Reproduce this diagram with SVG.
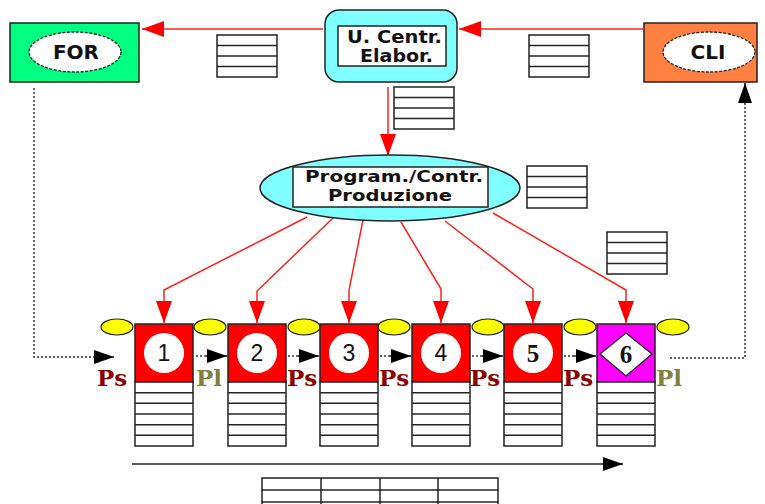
<svg xmlns="http://www.w3.org/2000/svg" xmlns:xlink="http://www.w3.org/1999/xlink" width="765" height="504" viewBox="0 0 765 504">
<style>
.tb{fill:#fff;stroke:#222;stroke-width:1.5}
.tl{stroke:#222;stroke-width:1.5}
.red{stroke:#ff2020;stroke-width:1.5;fill:none}
.dot{stroke:#333;stroke-width:1.5;fill:none;stroke-dasharray:2 2}
.blk{stroke:#222;stroke-width:1.5;fill:none}
.lbl{font-family:"DejaVu Sans",Verdana,sans-serif;font-weight:bold;fill:#111;text-anchor:middle}
.num{font-family:"Liberation Sans",Arial,sans-serif;font-size:23px;fill:#111;text-anchor:middle}
.numS{font-family:"Liberation Serif","Times New Roman",serif;font-weight:bold;font-size:25px;fill:#111;text-anchor:middle}
.ps{font-family:"DejaVu Serif","Liberation Serif",serif;font-weight:bold;font-size:23px;fill:#8b0000}
.pl{font-family:"DejaVu Serif","Liberation Serif",serif;font-weight:bold;font-size:23px;fill:#808040}
.box{stroke:#222;stroke-width:1.5}
.yel{fill:#ffff00;stroke:#222;stroke-width:1.2}
</style>
<defs>
<g id="tbl4">
<rect class="tb" x="0" y="0" width="60" height="42"/>
<line class="tl" x1="0" y1="10.5" x2="60" y2="10.5"/>
<line class="tl" x1="0" y1="21" x2="60" y2="21"/>
<line class="tl" x1="0" y1="31.5" x2="60" y2="31.5"/>
</g>
<g id="tbl6">
<rect class="tb" x="0" y="0" width="58" height="64"/>
<line class="tl" x1="0" y1="10.7" x2="58" y2="10.7"/>
<line class="tl" x1="0" y1="21.3" x2="58" y2="21.3"/>
<line class="tl" x1="0" y1="32" x2="58" y2="32"/>
<line class="tl" x1="0" y1="42.7" x2="58" y2="42.7"/>
<line class="tl" x1="0" y1="53.3" x2="58" y2="53.3"/>
</g>
<marker id="arL" viewBox="0 0 10 10" refX="10" refY="5" markerWidth="22" markerHeight="16" markerUnits="userSpaceOnUse" orient="auto" preserveAspectRatio="none">
<path d="M0,0 L10,5 L0,10 z" fill="#ff0000"/>
</marker>
<marker id="ab" viewBox="0 0 10 10" refX="10" refY="5" markerWidth="20" markerHeight="14" markerUnits="userSpaceOnUse" orient="auto" preserveAspectRatio="none">
<path d="M0,0 L10,5 L0,10 z" fill="#000"/>
</marker>
</defs>

<g id="connectors">
<line class="red" x1="323" y1="29" x2="142" y2="29" marker-end="url(#arL)"/>
<line class="red" x1="643" y1="29" x2="459" y2="29" marker-end="url(#arL)"/>
<line class="red" x1="388" y1="87" x2="388" y2="156" marker-end="url(#arL)"/>
<polyline class="red" points="307,217 164,290 164,323" marker-end="url(#arL)"/>
<polyline class="red" points="333,218 257,291 257,323" marker-end="url(#arL)"/>
<polyline class="red" points="363,220 349,290 349,323" marker-end="url(#arL)"/>
<polyline class="red" points="401,222 441,289 441,323" marker-end="url(#arL)"/>
<polyline class="red" points="445,221 533,289 533,323" marker-end="url(#arL)"/>
<polyline class="red" points="493,213 626,290 626,323" marker-end="url(#arL)"/>
<polyline class="dot" points="34,88 34,357 96,357"/>
<line class="blk" x1="96" y1="357" x2="114" y2="357" marker-end="url(#ab)"/>
<polyline class="dot" points="670,358 745,358 745,104"/>
<line class="blk" x1="745" y1="104" x2="745" y2="83" marker-end="url(#ab)"/>
<line class="dot" x1="196" y1="356" x2="206" y2="356"/>
<line class="blk" x1="206" y1="356" x2="227" y2="356" marker-end="url(#ab)"/>
<line class="dot" x1="288" y1="356" x2="298" y2="356"/>
<line class="blk" x1="298" y1="356" x2="319" y2="356" marker-end="url(#ab)"/>
<line class="dot" x1="380" y1="356" x2="390" y2="356"/>
<line class="blk" x1="390" y1="356" x2="411" y2="356" marker-end="url(#ab)"/>
<line class="dot" x1="472" y1="356" x2="482" y2="356"/>
<line class="blk" x1="482" y1="356" x2="503" y2="356" marker-end="url(#ab)"/>
<line class="dot" x1="564" y1="356" x2="574" y2="356"/>
<line class="blk" x1="574" y1="356" x2="596" y2="356" marker-end="url(#ab)"/>
<line class="blk" x1="132" y1="464" x2="623" y2="464" marker-end="url(#ab)"/>
</g>

<g id="FOR">
<rect x="10" y="23" width="129" height="59" fill="#00ff80" class="box"/>
<ellipse cx="75" cy="52" rx="46" ry="20" fill="#fff" stroke="#222" stroke-width="1.3" stroke-dasharray="3 1.5"/>
<text class="lbl" x="76" y="59" font-size="20">FOR</text>
</g>

<g id="CLI">
<rect x="644" y="23" width="113" height="59" fill="#ff8040" class="box"/>
<ellipse cx="709" cy="52" rx="46" ry="20" fill="#fff" stroke="#222" stroke-width="1.3" stroke-dasharray="3 1.5"/>
<text class="lbl" x="708" y="59" font-size="20">CLI</text>
</g>

<g id="UCentr">
<rect x="325" y="10" width="132" height="72" rx="14" fill="#80ffff" class="box"/>
<rect x="338" y="26" width="108" height="40" fill="#fff" class="box"/>
<text class="lbl" x="394.5" y="43" font-size="17" textLength="95" lengthAdjust="spacingAndGlyphs">U. Centr.</text>
<text class="lbl" x="396.5" y="62" font-size="17" textLength="73" lengthAdjust="spacingAndGlyphs">Elabor.</text>
</g>

<g id="Program">
<ellipse cx="390" cy="188" rx="130" ry="33" fill="#80ffff" class="box"/>
<rect x="293" y="167" width="195" height="40" fill="#fff" class="box"/>
<text class="lbl" x="394" y="182" font-size="15.5" textLength="178" lengthAdjust="spacingAndGlyphs">Program./Contr.</text>
<text class="lbl" x="390" y="201" font-size="15.5" textLength="124" lengthAdjust="spacingAndGlyphs">Produzione</text>
</g>

<g id="tables">
<use xlink:href="#tbl4" x="217" y="35"/>
<use xlink:href="#tbl4" x="529" y="35"/>
<use xlink:href="#tbl4" x="394" y="87"/>
<use xlink:href="#tbl4" x="527" y="166"/>
<use xlink:href="#tbl4" x="607" y="232"/>
</g>

<g id="yellow">
<ellipse class="yel" cx="117" cy="327" rx="16" ry="8"/>
<ellipse class="yel" cx="210" cy="327" rx="16" ry="8"/>
<ellipse class="yel" cx="304" cy="327" rx="16" ry="8"/>
<ellipse class="yel" cx="394" cy="327" rx="16" ry="8"/>
<ellipse class="yel" cx="488" cy="327" rx="16" ry="8"/>
<ellipse class="yel" cx="580" cy="327" rx="16" ry="8"/>
<ellipse class="yel" cx="673" cy="327" rx="16" ry="8"/>
</g>

<g id="st1">
<rect x="135" y="324" width="58" height="58" fill="#ff0000" class="box"/>
<circle cx="164" cy="353" r="20" fill="#fff"/>
<text class="num" x="164" y="361">1</text>
<use xlink:href="#tbl6" x="135" y="382"/>
</g>
<g id="st2">
<rect x="228" y="324" width="58" height="58" fill="#ff0000" class="box"/>
<circle cx="257" cy="353" r="20" fill="#fff"/>
<text class="num" x="257" y="361">2</text>
<use xlink:href="#tbl6" x="228" y="382"/>
</g>
<g id="st3">
<rect x="320" y="324" width="58" height="58" fill="#ff0000" class="box"/>
<circle cx="349" cy="353" r="20" fill="#fff"/>
<text class="num" x="349" y="361">3</text>
<use xlink:href="#tbl6" x="320" y="382"/>
</g>
<g id="st4">
<rect x="412" y="324" width="58" height="58" fill="#ff0000" class="box"/>
<circle cx="441" cy="353" r="20" fill="#fff"/>
<text class="num" x="441" y="361">4</text>
<use xlink:href="#tbl6" x="412" y="382"/>
</g>
<g id="st5">
<rect x="504" y="324" width="58" height="58" fill="#ff0000" class="box"/>
<circle cx="533" cy="353" r="20" fill="#fff"/>
<text class="numS" x="533" y="362">5</text>
<use xlink:href="#tbl6" x="504" y="382"/>
</g>
<g id="st6">
<rect x="597" y="324" width="58" height="58" fill="#ff00ff" class="box"/>
<polygon points="626,333 652,354 626,376 600,354" fill="#fff" stroke="#222" stroke-width="1.3"/>
<text class="numS" x="626" y="363">6</text>
<use xlink:href="#tbl6" x="597" y="382"/>
</g>

<g id="labels">
<text class="ps" x="97" y="386">Ps</text>
<text class="pl" x="196" y="386">Pl</text>
<text class="ps" x="287" y="386">Ps</text>
<text class="ps" x="379" y="386">Ps</text>
<text class="ps" x="470" y="386">Ps</text>
<text class="ps" x="563" y="386">Ps</text>
<text class="pl" x="656" y="386">Pl</text>
</g>

<g id="bottomtable">
<rect class="tb" x="262" y="478" width="236" height="40"/>
<line class="tl" x1="262" y1="490" x2="498" y2="490"/>
<line class="tl" x1="262" y1="502" x2="498" y2="502"/>
<line class="tl" x1="321" y1="478" x2="321" y2="504"/>
<line class="tl" x1="380" y1="478" x2="380" y2="504"/>
<line class="tl" x1="438" y1="478" x2="438" y2="504"/>
</g>
</svg>
